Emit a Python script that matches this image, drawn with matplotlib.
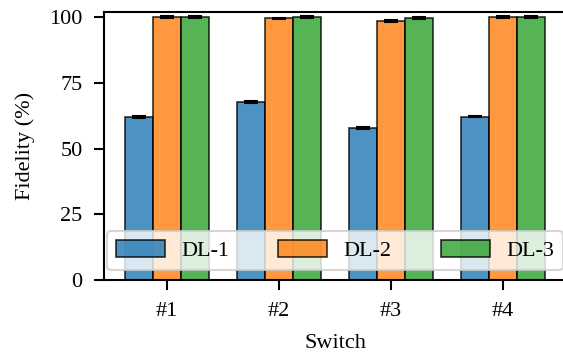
import numpy as np
import matplotlib
matplotlib.use('Agg')
import matplotlib.pyplot as plt

plt.rcParams['font.family'] = ['Liberation Serif', 'DejaVu Serif']
plt.rcParams['font.size'] = 16

switches = ['#1', '#2', '#3', '#4']
series = ['DL-1', 'DL-2', 'DL-3']
dl1 = [62.0, 67.7, 57.8, 62.2]
dl2 = [100.0, 99.6, 98.5, 100.0]
dl3 = [100.0, 100.0, 99.7, 100.0]
err1 = [0.3, 0.3, 0.3, 0.3]
err2 = [0.3, 0.3, 0.3, 0.3]
err3 = [0.3, 0.3, 0.3, 0.3]

values = [dl1, dl2, dl3]
errors = [err1, err2, err3]
colors = ['#1f77b4', '#ff7f0e', '#2ca02c']

fig = plt.figure(figsize=(5.63, 3.52), dpi=100)
# right edge of the axes sits just past the image edge, as in the cropped original
ax = fig.add_axes([104/563, 72/352, 462/563, 268/352])

x = np.arange(len(switches))
w = 0.25
for i, (vals, errs, c, lab) in enumerate(zip(values, errors, colors, series)):
    ax.bar(x + (i - 1) * w, vals, w, yerr=errs, capsize=5, color=c, alpha=0.8,
           edgecolor='black', linewidth=1.2, label=lab,
           error_kw={'elinewidth': 1.5, 'capthick': 1.5, 'ecolor': 'black'})

ax.set_xticks(x)
ax.set_xticklabels(switches)
ax.set_yticks([0, 25, 50, 75, 100])
ax.set_ylim(0, 102)
ax.set_xlabel('Switch', labelpad=10)
ax.set_ylabel('Fidelity (%)', labelpad=10)
for s in ax.spines.values():
    s.set_linewidth(1.5)
ax.tick_params(width=1.5, length=7.5, pad=8)

leg = ax.legend(ncol=3, loc='lower center', handlelength=2.2, handleheight=0.8,
                handletextpad=0.75, columnspacing=2.2, framealpha=0.8,
                borderaxespad=0.45)
leg.get_frame().set_linewidth(1.5)

fig.savefig('out.png', dpi=100)
